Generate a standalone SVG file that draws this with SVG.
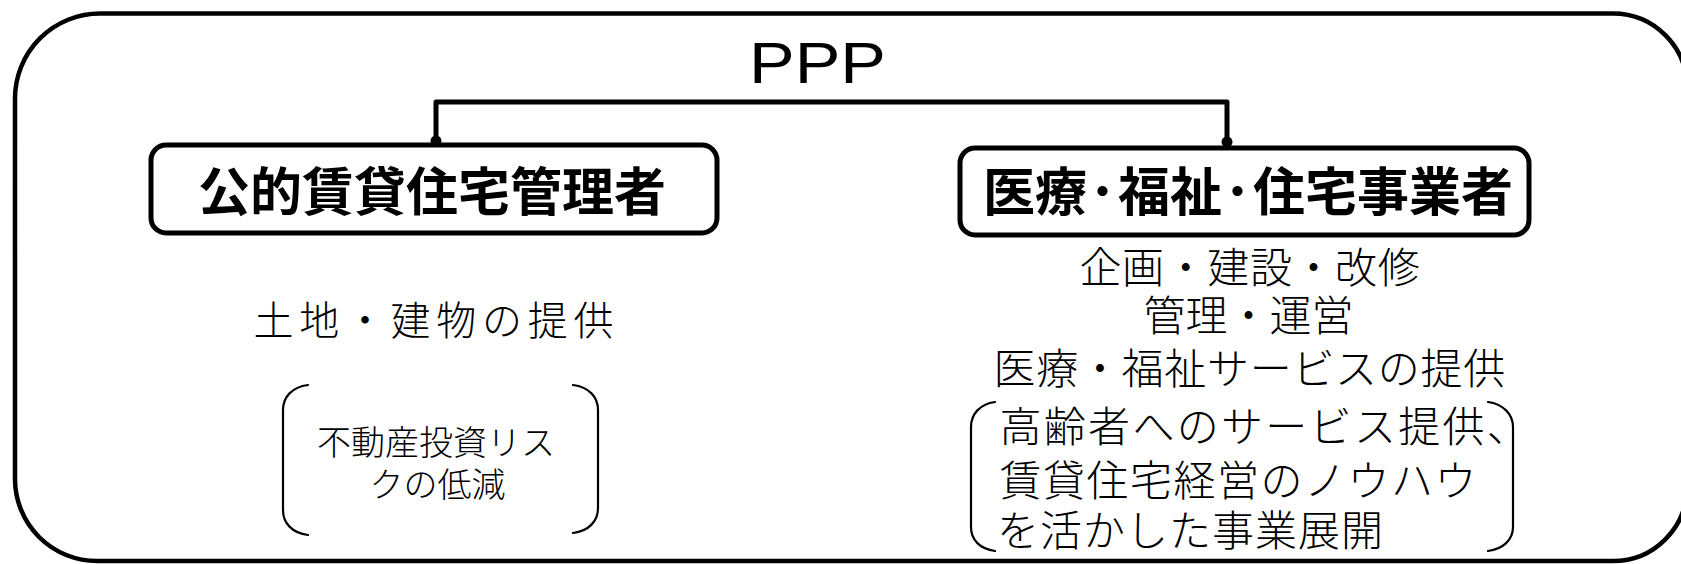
<svg xmlns="http://www.w3.org/2000/svg" width="1681" height="564" viewBox="0 0 1681 564">
  <style>
    .frame { fill: none; stroke: #000; stroke-width: 4.5; }
    .box { fill: #fff; stroke: #000; stroke-width: 5; }
    .conn { fill: none; stroke: #000; stroke-width: 5; stroke-linejoin: round; }
    .brk { fill: none; stroke: #000; stroke-width: 2.2; stroke-linecap: round; }
    .jp { font-family: "Liberation Sans", "Noto Sans CJK JP", sans-serif; fill: #000; font-weight: 300; }
    .title { font-weight: bold; font-size: 52px; }
    .body { font-size: 42px; }
  </style>
  <rect width="1681" height="564" fill="#fff"/>
  <path class="frame" d="M100,13.5 L1613,13.5 A74 74 0 0 1 1687,87.5 L1687,487 A74 74 0 0 1 1613,561 L97,561 A82 82 0 0 1 15,479 L15,98.5 A85 85 0 0 1 100,13.5 Z"/>
  <text x="0" y="0" transform="translate(817.5,82.7) scale(1.2,1)" text-anchor="middle" font-family="Liberation Sans, Arial, sans-serif" font-size="57" fill="#000">PPP</text>
  <g id="connectors">
    <path class="conn" d="M436,145 L436,102 L1227,102 L1227,147"/>
    <circle cx="436" cy="141" r="5.5" fill="#000"/>
    <circle cx="1227" cy="142" r="5.5" fill="#000"/>
  </g>
  <g id="node-public">
    <rect class="box" x="151" y="145" width="566" height="88" rx="15"/>
    <text class="jp title" x="198" y="211">公的賃貸住宅管理者</text>
  </g>
  <g id="node-private">
    <rect class="box" x="960" y="148" width="569" height="87" rx="15"/>
    <text class="jp title" x="983" y="211" letter-spacing="0">医療<tspan dx="2.5">･</tspan><tspan dx="2.5">福祉</tspan><tspan dx="2.5">･</tspan><tspan dx="2.5">住宅事業者</tspan></text>
  </g>
  <g id="public-roles">
    <text class="jp" x="253.5" y="335" font-size="40" letter-spacing="5.7">土地・建物の提供</text>
    <path class="brk" d="M308,385 C292,387 283,397 283,410 L283,510 C283,523 292,533 308,535"/>
    <path class="brk" d="M573,385 C589,387 598,397 598,410 L598,508 C598,521 589,531 573,533"/>
    <text class="jp" x="317" y="455" font-size="34">不動産投資リス</text>
    <text class="jp" x="369.5" y="497" font-size="34">クの低減</text>
  </g>
  <g id="private-roles">
    <text class="jp body" x="1079.5" y="283" letter-spacing="0.6">企画・建設・改修</text>
    <text class="jp body" x="1143.5" y="331">管理・運営</text>
    <text class="jp body" x="993.5" y="384" letter-spacing="0.7">医療・福祉サービスの提供</text>
    <path class="brk" d="M995,402 C980,404 971,414 971,427 L971,527 C971,540 980,549 995,551"/>
    <path class="brk" d="M1488,402 C1503,404 1513,414 1513,427 L1513,527 C1513,540 1503,549 1488,551"/>
    <text class="jp body" x="999.5" y="442" letter-spacing="2.3">高齢者へのサービス提供、</text>
    <text class="jp body" x="999.5" y="496" letter-spacing="1.5">賃貸住宅経営のノウハウ</text>
    <text class="jp body" x="997" y="546" letter-spacing="1">を活かした事業展開</text>
  </g>
</svg>
